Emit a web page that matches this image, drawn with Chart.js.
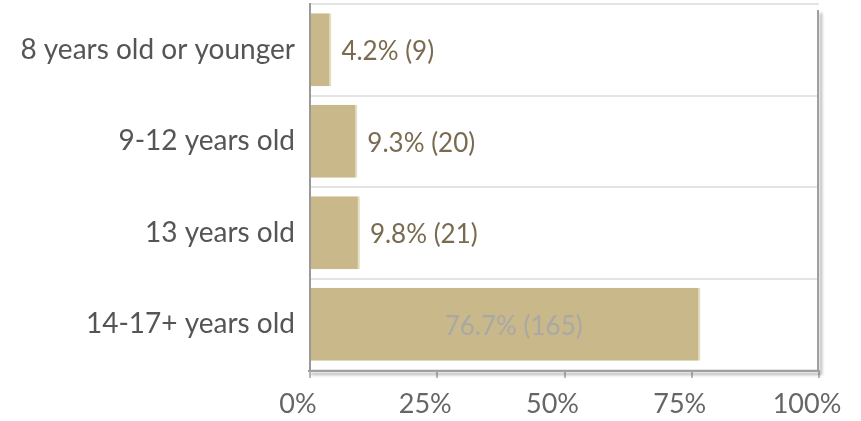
<!DOCTYPE html>
<html>
<head>
<meta charset="utf-8">
<script src="https://cdn.jsdelivr.net/npm/chart.js@4"></script>
<style>
  html, body { margin: 0; padding: 0; background: #ffffff; }
  #wrap { width: 861px; height: 421px; }
</style>
</head>
<body>
<div id="wrap"><canvas id="c" width="861" height="421"></canvas></div>
<script>
const categories = ["8 years old or younger", "9-12 years old", "13 years old", "14-17+ years old"];
const percents = [4.2, 9.3, 9.8, 76.7];
const counts = [9, 20, 21, 165];
const tickValues = [0, 25, 50, 75, 100];

const FONT = "Lato, 'Source Sans Pro', 'Open Sans', sans-serif";

const valueLabels = {
  id: 'valueLabels',
  afterDatasetsDraw(chart) {
    const ctx = chart.ctx;
    const meta = chart.getDatasetMeta(0);
    ctx.save();
    ctx.font = "26px " + FONT;
    ctx.textBaseline = 'middle';
    meta.data.forEach((bar, i) => {
      const txt = percents[i].toFixed(1) + '% (' + counts[i] + ')';
      if (percents[i] > 50) {
        ctx.fillStyle = '#a9a8a4';
        ctx.textAlign = 'center';
        ctx.fillText(txt, (bar.x + bar.base) / 2 + 8, bar.y + 2);
      } else {
        ctx.fillStyle = '#7a6b50';
        ctx.textAlign = 'left';
        ctx.fillText(txt, bar.x + 10, bar.y + 2);
      }
    });
    ctx.restore();
  }
};

const frame = {
  id: 'frame',
  afterDatasetsDraw(chart) {
    const a = chart.chartArea;
    const ctx = chart.ctx;
    ctx.save();
    ctx.shadowColor = 'rgba(0,0,0,0.35)';
    ctx.shadowBlur = 3;
    ctx.shadowOffsetX = 3;
    ctx.shadowOffsetY = 3;
    ctx.strokeStyle = '#a0a0a0';
    ctx.lineWidth = 2;
    ctx.beginPath();
    ctx.moveTo(a.right - 1, a.top + 6);
    ctx.lineTo(a.right - 1, a.bottom + 1);
    ctx.lineTo(a.left - 2, a.bottom + 1);
    ctx.stroke();
    ctx.restore();
  }
};

new Chart(document.getElementById('c'), {
  type: 'bar',
  data: {
    labels: categories,
    datasets: [{
      data: percents,
      backgroundColor: '#c8b88a',
      borderColor: '#e6dcc2',
      borderWidth: { right: 2, top: 0, bottom: 0, left: 0 },
      borderSkipped: false,
      categoryPercentage: 0.8,
      barPercentage: 1.0
    }]
  },
  options: {
    indexAxis: 'y',
    responsive: false,
    animation: false,
    layout: { padding: { top: 4, right: 42, left: 0, bottom: 0 } },
    plugins: { legend: { display: false }, tooltip: { enabled: false } },
    scales: {
      x: {
        min: 0, max: 100,
        afterBuildTicks(scale) { scale.ticks = tickValues.map(v => ({ value: v })); },
        afterFit(scale) { scale.height = 51; scale.paddingLeft = 0; scale.paddingRight = 0; },
        ticks: {
          callback: v => v + '%',
          font: { size: 27, family: FONT },
          color: '#666666',
          padding: 10,
          labelOffset: -12,
          maxRotation: 0
        },
        grid: { drawOnChartArea: false, drawTicks: true, tickLength: 8, color: '#bbbbbb', lineWidth: 2 },
        border: { display: false }
      },
      y: {
        afterFit(scale) { scale.width = 310; scale.paddingTop = 0; scale.paddingBottom = 0; },
        ticks: {
          font: { size: 28, family: FONT },
          color: '#555555',
          padding: 15
        },
        grid: { offset: true, color: '#e4e4e4', lineWidth: 2, drawTicks: false },
        border: { display: true, color: '#999999', width: 2 }
      }
    }
  },
  plugins: [valueLabels, frame]
});
</script>
</body>
</html>
